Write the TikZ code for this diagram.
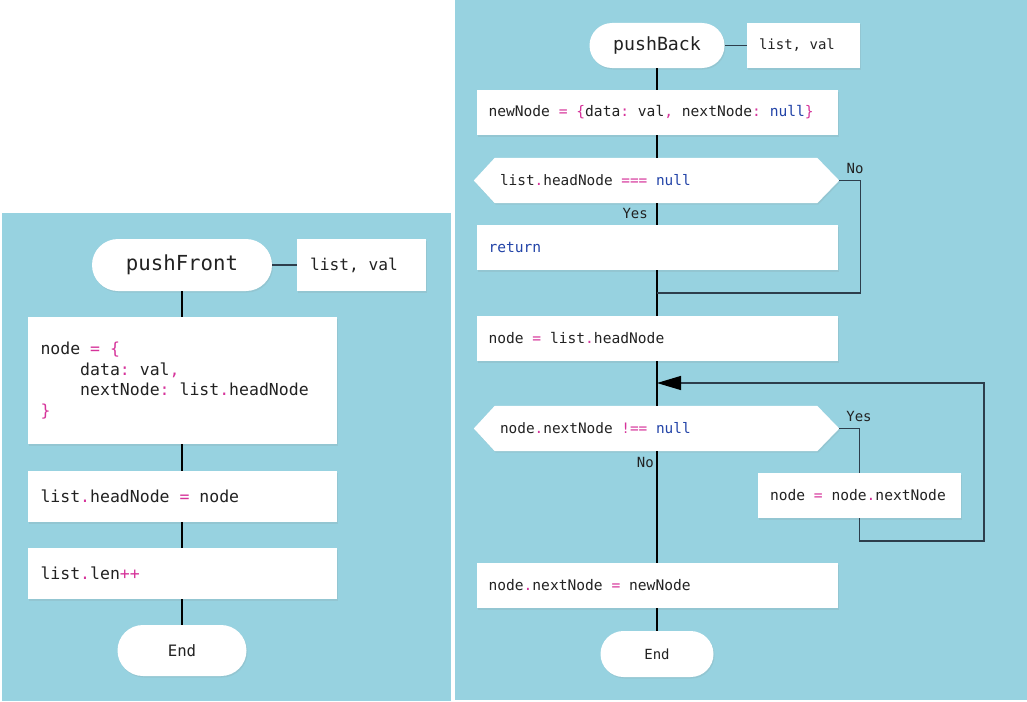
\documentclass[tikz,border=0pt]{standalone}
\usepackage{fontspec}
\setmonofont{DejaVu Sans Mono}
\usetikzlibrary{arrows.meta,shadows}
\definecolor{panel}{RGB}{151,210,224}
\definecolor{opcol}{RGB}{214,51,154}
\definecolor{kwcol}{RGB}{35,68,168}
\definecolor{ink}{RGB}{34,34,34}
\definecolor{wire}{RGB}{45,62,76}
\newcommand\opc[1]{\textcolor{opcol}{#1}}
\newcommand\kwc[1]{\textcolor{kwcol}{#1}}
\newcommand\tf[2]{\ttfamily\fontsize{#1}{#2}\selectfont}
\newcommand\mt{\spaceskip=0.60205em\xspaceskip=0.60205em\relax}
\pgfdeclarelayer{panels}
\pgfdeclarelayer{shapes}
\pgfsetlayers{panels,shapes,main}
\tikzset{
  shad/.style={drop shadow={opacity=0.14, shadow xshift=1pt, shadow yshift=-1.5pt}},
  box/.style={rectangle, fill=white, draw=none, shad, inner ysep=0pt, align=left, text=ink},
  rbox/.style={box, inner xsep=12pt, minimum height=45pt, minimum width=361pt, text width=337pt, font=\tf{14.6}{17.5}},
  lbox/.style={box, inner xsep=13pt, minimum width=309pt, text width=283pt, font=\tf{16.5}{20.7}},
  term/.style={rectangle, fill=white, draw=none, shad, text=ink},
  dec/.style={rectangle, draw=none, inner xsep=26pt, inner ysep=0pt, minimum width=365pt, text width=313pt, minimum height=45pt, align=left, text=ink, font=\tf{14.4}{17.3}},
  flow/.style={draw=black, line width=1.6pt},
  thin/.style={draw=wire, line width=1.2pt},
  lab/.style={text=ink, font=\tf{14}{17}, inner sep=0pt}
}
\begin{document}
\begin{tikzpicture}[x=1pt,y=-1pt]
\useasboundingbox (0,0) rectangle (1027,701);
\begin{pgfonlayer}{panels}
\fill[white] (0,0) rectangle (1027,701);
\fill[panel] (2,213) rectangle (451,701);
\fill[panel] (455,0) rectangle (1027,700);
\end{pgfonlayer}

% ---------- left: pushFront ----------
\node[term, minimum width=180pt, minimum height=52pt, rounded corners=26pt, font=\tf{20.7}{24}] (pf) at (182,265) {pushFront};
\node[box, inner xsep=13pt, minimum width=129pt, minimum height=52pt, text width=103pt, font=\tf{16.2}{19}] (pfa) at (361.5,265) {\mt list, val};
\node[lbox, minimum height=127pt] (code) at (182,380.5) {\mt node \opc{= \{}\\
\phantom{xxxx}data\opc{:} val\opc{,}\\
\phantom{xxxx}nextNode\opc{:} list\opc{.}headNode\\
\opc{\}}};
\node[lbox, minimum height=51pt] (hn) at (182,496.5) {\mt list\opc{.}headNode \opc{=} node};
\node[lbox, minimum height=51pt] (len) at (182,573.5) {\mt list\opc{.}len\opc{++}};
\node[term, minimum width=129pt, minimum height=51pt, rounded corners=25.5pt, font=\tf{15.7}{19}] (pfe) at (182,650.5) {End};

\draw[thin] (pf.east) -- (pfa.west);
\draw[flow] (pf.south) -- (code.north);
\draw[flow] (code.south) -- (hn.north);
\draw[flow] (hn.south) -- (len.north);
\draw[flow] (len.south) -- (pfe.north);

% ---------- right: pushBack ----------
\node[term, minimum width=135pt, minimum height=45pt, rounded corners=22.5pt, font=\tf{18.2}{22}] (pb) at (657,45.5) {pushBack};
\node[box, inner xsep=12pt, minimum width=113pt, minimum height=45pt, text width=89pt, font=\tf{14}{17}] (pba) at (803.5,45.5) {\mt list, val};
\node[rbox] (nn) at (657,112.5) {\mt newNode \opc{= \{}data\opc{:} val\opc{,} nextNode\opc{:} \kwc{null}\opc{\}}};
\node[dec] (d1) at (656.5,180.5) {\mt list\opc{.}headNode \opc{===} \kwc{null}};
\node[rbox] (ret) at (657,247.5) {\kwc{return}};
\node[rbox] (nl) at (657,338.5) {\mt node \opc{=} list\opc{.}headNode};
\node[dec] (d2) at (656.5,428.5) {\mt node\opc{.}nextNode \opc{!==} \kwc{null}};
\node[box, inner xsep=12pt, minimum width=203pt, minimum height=45pt, text width=179pt, font=\tf{14.6}{17.5}] (nx) at (859.5,495.5) {\mt node \opc{=} node\opc{.}nextNode};
\node[rbox] (fin) at (657,585.5) {\mt node\opc{.}nextNode \opc{=} newNode};
\node[term, minimum width=113pt, minimum height=46pt, rounded corners=23pt, font=\tf{14}{17}] (pbe) at (657,654) {End};

\begin{pgfonlayer}{shapes}
\foreach \d in {d1,d2}{
\fill[white, shad] (\d.west) -- ([xshift=21pt]\d.north west) -- ([xshift=-22pt]\d.north east) -- (\d.east) -- ([xshift=-22pt]\d.south east) -- ([xshift=21pt]\d.south west) -- cycle;
}
\end{pgfonlayer}

\coordinate (m1) at (657,293);
\coordinate (ar) at (657,383);
\coordinate (lp) at (984,541);

\draw[thin] (pb.east) -- (pba.west);
\draw[flow] (pb.south) -- (nn.north);
\draw[flow] (nn.south) -- (d1.north -| nn.south);
\draw[flow] (d1.south -| nn.south) -- (ret.north);
\draw[flow] (ret.south) -- (m1) -- (nl.north);
\draw[thin] (d1.east) -- ++(21,0) |- (m1);
\draw[flow] (nl.south) -- (d2.north -| nl.south);
\draw[flow] (d2.south -| nl.south) -- (fin.north);
\draw[flow] (fin.south) -- (pbe.north);
\draw[thin] (d2.east) -| (nx.north);
\draw[thin, -{Triangle[length=24pt,width=14pt,color=black]}] (nx.south) |- (lp) |- (ar);

\node[lab, anchor=east] (y1) at (648,213) {Yes};
\node[lab] (n1) at (855,168) {No};
\node[lab] (y2) at (859,416) {Yes};
\node[lab, anchor=east] (n2) at (654,462) {No};
\end{tikzpicture}
\end{document}
